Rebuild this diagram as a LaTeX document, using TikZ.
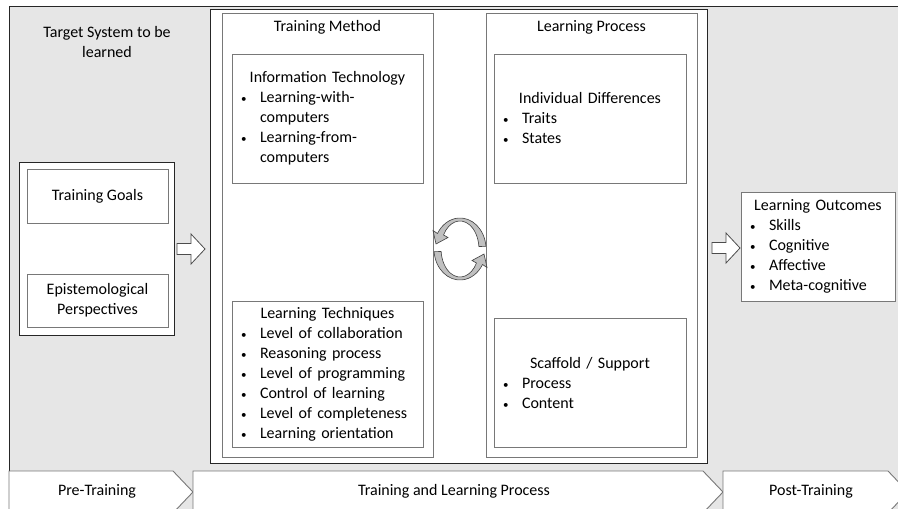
\documentclass[tikz,border=0pt]{standalone}
\usepackage{fontspec}
\setmainfont{Carlito}
\usepackage{tikz}
\usetikzlibrary{positioning}

\definecolor{bggray}{RGB}{230,230,230}
\definecolor{boxline}{RGB}{120,120,120}
\definecolor{cycgray}{RGB}{192,192,192}

\setlength{\parindent}{0pt}
\newcommand{\bhead}[1]{{\centering #1\par}}
\newcommand{\bitem}[1]{\par\makebox[19pt][l]{\fontsize{11}{11}\selectfont\textbullet}#1}
\newcommand{\bnext}[1]{\par\hspace*{19pt}#1}

\begin{document}
\begin{tikzpicture}
[
x=1pt, y=-1pt,
font=\fontsize{16}{20}\selectfont,
frame/.style={draw=black!85, line width=0.9pt, fill=white},
inbox/.style={draw=boxline, line width=0.9pt, fill=white, inner xsep=9pt, inner ysep=0pt},
listbox/.style={inbox, execute at begin node=\raggedright},
title/.style={inner sep=0pt},
chevron/.style={draw=boxline, line width=0.9pt, fill=white},
blockarrow/.style={draw=black!70, line width=0.8pt, fill=white},
cycarrow/.style={draw=black!75, line width=0.6pt, fill=cycgray}
]
%Background
\useasboundingbox (0,0) rectangle (898,509);
\clip (0,0) rectangle (898,509);
\fill[bggray] (9,6) rectangle (898,509);
\draw[black!85, line width=0.9pt] (9,509) -- (9,6) -- (898,6);

%Nodes
\node[align=center]  (target)  at (107,42)   {Target System to be\\learned};
\node[frame, minimum width=155, minimum height=173] (pre) at (96.5,248.5) {};
\node[inbox, align=center, minimum width=141, minimum height=54] (goals)  at (97.5,196)   {Training Goals};
\node[inbox, align=center, minimum width=141, minimum height=53] (episte) at (97.5,300.5) {Epistemological\\Perspectives};

\node[frame, minimum width=497, minimum height=454] (tlp)     at (458.5,236) {};
\node[inbox, minimum width=211, minimum height=444] (method)  at (327.5,235) {};
\node[inbox, minimum width=211, minimum height=444] (process) at (591.5,235) {};
\node[title] (methodtitle)  at (327.5,27) {Training Method};
\node[title] (processtitle) at (591.5,27) {Learning Process};

\node[listbox, text width=173, minimum height=129] (infotech) at (327.5,118.5)
  {\bhead{Information Technology}\bitem{Learning-with-}\bnext{computers}\bitem{Learning-from-}\bnext{computers}};
\node[listbox, text width=173, minimum height=146] (techniques) at (327.5,374)
  {\bhead{Learning Techniques}\bitem{Level of collaboration}\bitem{Reasoning process}\bitem{Level of programming}\bitem{Control of learning}\bitem{Level of completeness}\bitem{Learning orientation}};
\node[listbox, text width=174, minimum height=129] (indiv) at (590,118.5)
  {\bhead{Individual Differences}\bitem{Traits}\bitem{States}};
\node[listbox, text width=174, minimum height=129] (scaffold) at (590,382.5)
  {\bhead{Scaffold / Support}\bitem{Process}\bitem{Content}};
\node[listbox, text width=136, minimum height=109] (outcomes) at (818,246.5)
  {\bhead{Learning Outcomes}\bitem{Skills}\bitem{Cognitive}\bitem{Affective}\bitem{Meta-cognitive}};

%Phases
\draw[chevron] (9,471) -- (173,471) -- (193,492) -- (173,513) -- (9,513) -- cycle;
\draw[chevron] (193,471) -- (703,471) -- (723,492) -- (703,513) -- (193,513) -- cycle;
\draw[chevron] (723,471) -- (888,471) -- (908,492) -- (888,513) -- (723,513) -- cycle;
\node (pretext)  at (97,491)  {Pre-Training};
\node (tlptext)  at (454,491) {Training and Learning Process};
\node (posttext) at (811,491) {Post-Training};

%Arrows
\coordinate (intip)  at (205,249);
\coordinate (outtip) at (740,248);
\draw[blockarrow] (intip) -- ++(-14,-15) -- ++(0,9.5) -- ++(-14,0) -- ++(0,11) -- ++(14,0) -- ++(0,9.5) -- cycle;
\draw[blockarrow] (outtip) -- ++(-14,-15) -- ++(0,9.5) -- ++(-14,0) -- ++(0,11) -- ++(14,0) -- ++(0,9.5) -- cycle;

%Cycle
\coordinate (cyc) at (460,249);
\draw[cycarrow] (485.9,246.3) arc[start angle=-5, end angle=-150, x radius=26, y radius=31]
  -- (433,230.5) -- (436,244) -- (448,237.5) -- (443.5,235)
  arc[start angle=-150, end angle=-5, x radius=19, y radius=28] -- cycle;
\begin{scope}[rotate around={180:(cyc)}]
\draw[cycarrow] (485.9,246.3) arc[start angle=-5, end angle=-150, x radius=26, y radius=31]
  -- (433,230.5) -- (436,244) -- (448,237.5) -- (443.5,235)
  arc[start angle=-150, end angle=-5, x radius=19, y radius=28] -- cycle;
\end{scope}
\end{tikzpicture}
\end{document}
